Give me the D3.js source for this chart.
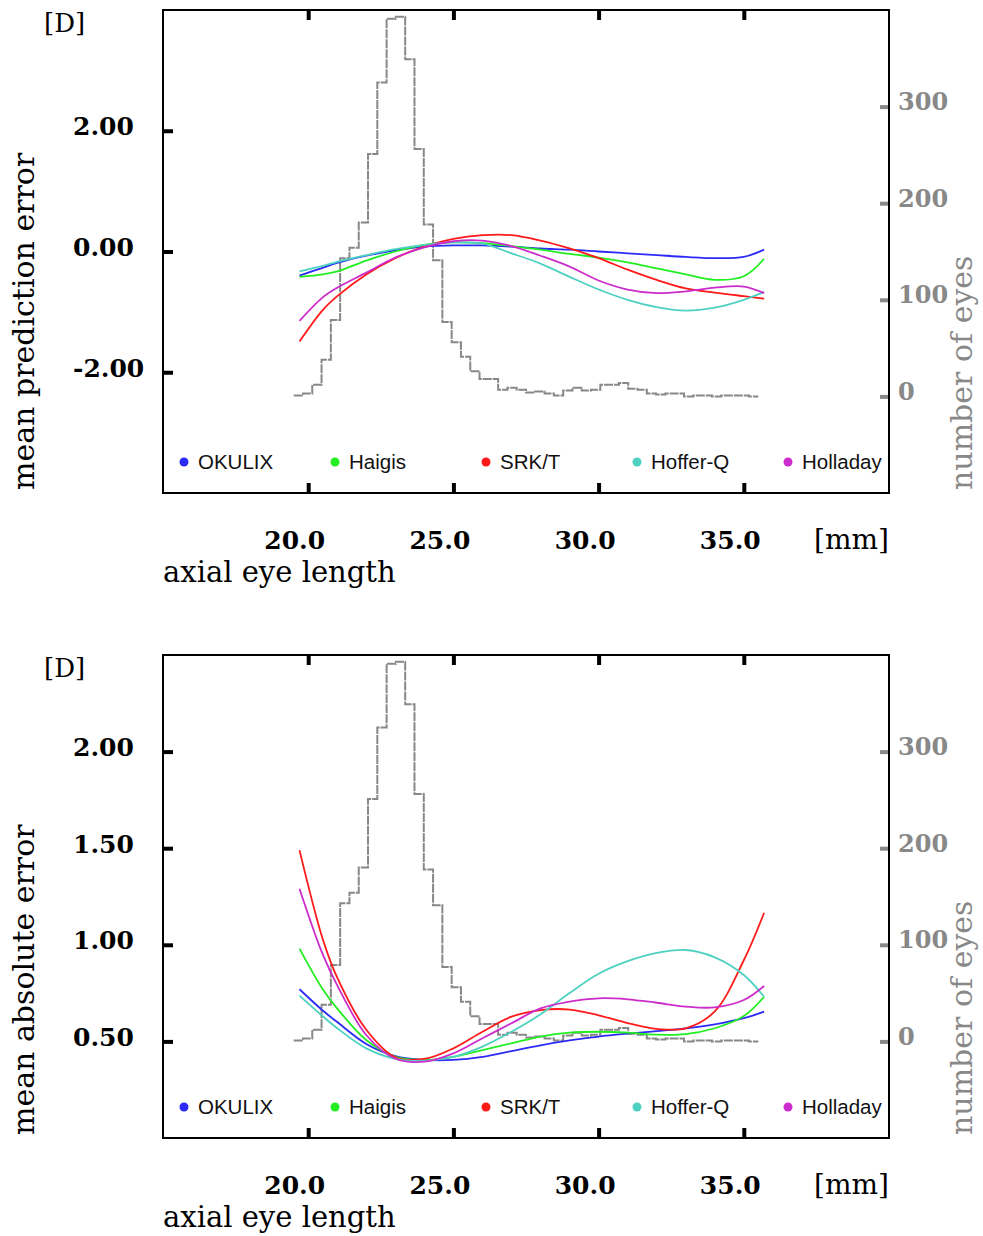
<!DOCTYPE html>
<html>
<head>
<meta charset="utf-8">
<script src="https://cdn.jsdelivr.net/npm/d3@7"></script>
<style>
  body { margin: 0; background: #fff; }
  svg text { font-family: "DejaVu Serif", serif; }
</style>
</head>
<body>
<div id="chart"></div>
<script>
// axial eye length [mm] where the fitted curves were read
const axialLength = [19.7, 20.5, 21, 22, 23, 24, 25, 26, 27, 28, 29, 30, 31, 32, 33, 34, 35, 35.7];

const methods = ["OKULIX", "Haigis", "SRK/T", "Hoffer-Q", "Holladay"];
const methodColors = ["#2b2bf5", "#22ee22", "#ff1a1a", "#4fd1c2", "#cc2ccc"];

// mean prediction error [D]
const mpeOkulix   = [-0.40, -0.27, -0.19, -0.07, 0.02, 0.08, 0.10, 0.10, 0.08, 0.05, 0.03, 0.00, -0.03, -0.06, -0.09, -0.11, -0.09, 0.03];
const mpeHaigis   = [-0.42, -0.38, -0.33, -0.15, 0.00, 0.11, 0.15, 0.14, 0.09, 0.03, -0.04, -0.10, -0.18, -0.28, -0.38, -0.47, -0.41, -0.12];
const mpeSrkt     = [-1.49, -0.97, -0.74, -0.38, -0.11, 0.08, 0.21, 0.27, 0.27, 0.18, 0.05, -0.11, -0.30, -0.47, -0.61, -0.68, -0.74, -0.78];
const mpeHofferQ  = [-0.33, -0.24, -0.17, -0.06, 0.04, 0.11, 0.15, 0.13, -0.03, -0.20, -0.42, -0.63, -0.80, -0.92, -0.98, -0.93, -0.80, -0.67];
const mpeHolladay = [-1.15, -0.76, -0.60, -0.35, -0.10, 0.07, 0.17, 0.18, 0.09, -0.07, -0.25, -0.48, -0.63, -0.69, -0.66, -0.60, -0.58, -0.69];

// mean absolute error [D]
const maeOkulix   = [0.77, 0.66, 0.60, 0.487, 0.424, 0.404, 0.404, 0.42, 0.45, 0.48, 0.505, 0.525, 0.54, 0.553, 0.567, 0.588, 0.62, 0.654];
const maeHaigis   = [0.98, 0.77, 0.67, 0.507, 0.42, 0.404, 0.42, 0.455, 0.49, 0.525, 0.545, 0.55, 0.545, 0.535, 0.538, 0.568, 0.631, 0.731];
const maeSrkt     = [1.49, 1.03, 0.83, 0.56, 0.418, 0.409, 0.464, 0.55, 0.628, 0.662, 0.665, 0.635, 0.595, 0.565, 0.568, 0.655, 0.92, 1.166];
const maeHofferQ  = [0.737, 0.63, 0.568, 0.464, 0.41, 0.40, 0.42, 0.473, 0.55, 0.64, 0.75, 0.85, 0.915, 0.958, 0.973, 0.935, 0.844, 0.731];
const maeHolladay = [1.29, 0.95, 0.79, 0.533, 0.41, 0.395, 0.438, 0.516, 0.594, 0.671, 0.706, 0.723, 0.718, 0.70, 0.68, 0.676, 0.714, 0.787];

// histogram: number of eyes per bin (bins of 0.32 mm from 19.5 mm)
const histStart = 19.5, histWidth = 0.32;
const eyeCounts = [1, 3, 12, 38, 79, 143, 154, 180, 251, 325, 391, 393, 349, 256, 178, 141, 77, 56, 41, 26,
                   18, 18, 7, 9, 7, 4, 5, 3, 1, 6, 9, 6, 7, 12, 12, 14, 8, 7, 3, 2,
                   3, 3, 0, 1, 1, 0, 1, 1, 1, 0];

const xTicks = [20, 25, 30, 35];
const mpeTicks = [-2, 0, 2];
const maeTicks = [0.5, 1, 1.5, 2];
const eyeTicks = [0, 100, 200, 300];

var w = 983, h = 1236;
var left = 163, right = 889, plotH = 483;
var gray = "#888888";

var svg = d3.select("#chart")
  .append("svg")
  .attr("width", w)
  .attr("height", h);

var x = d3.scaleLinear().domain([15, 40]).range([left, right]);

// plain hyphen instead of the unicode minus
var fmt2 = d => d3.format(".2f")(d).replace("\u2212", "-");

function drawPanel(top, yDomain, yTicks, yTitle, series) {
  var bottom = top + plotH;
  var y = d3.scaleLinear().domain(yDomain).range([bottom, top]);
  var yEyes = d3.scaleLinear().domain([-100, 400]).range([bottom, top]);
  var g = svg.append("g");

  // histogram (step line)
  var hist = eyeCounts.map((c, i) => [histStart + i * histWidth, c]);
  hist.push([histStart + eyeCounts.length * histWidth, eyeCounts[eyeCounts.length - 1]]);
  g.append("path")
   .datum(hist)
   .attr("fill", "none")
   .attr("stroke", gray)
   .attr("stroke-width", 2)
   .attr("stroke-dasharray", "9 1")
   .attr("d", d3.line().curve(d3.curveStepAfter)
     .x(d => x(d[0]))
     .y(d => yEyes(d[1])));

  // fitted curves
  var line = d3.line().curve(d3.curveCatmullRom.alpha(0.5))
    .x((d, i) => x(axialLength[i]))
    .y(d => y(d));
  g.selectAll("path.fit")
   .data(series)
   .enter()
   .append("path")
   .attr("class", "fit")
   .attr("fill", "none")
   .attr("stroke", (d, i) => methodColors[i])
   .attr("stroke-width", 1.8)
   .attr("d", d => line(d));

  // left axis
  var yAx = g.append("g")
   .attr("transform", `translate(${left},0)`)
   .call(d3.axisLeft(y).tickValues(yTicks).tickSize(-10).tickFormat(fmt2));
  yAx.select(".domain").remove();
  yAx.selectAll("line").attr("stroke", "#000").attr("stroke-width", 4);
  yAx.selectAll("text")
     .attr("x", 73 - left).attr("dy", null).attr("y", 4)
     .attr("text-anchor", "start")
     .attr("fill", "#000")
     .style("font-size", "25px").style("font-weight", "bold");

  // right axis (number of eyes)
  var rAx = g.append("g")
   .attr("transform", `translate(${right},0)`)
   .call(d3.axisRight(yEyes).tickValues(eyeTicks).tickSize(-9));
  rAx.select(".domain").remove();
  rAx.selectAll("line").attr("stroke", gray).attr("stroke-width", 4);
  rAx.selectAll("text")
     .attr("x", 9).attr("dy", null).attr("y", 3)
     .attr("fill", gray)
     .style("font-size", "24px").style("font-weight", "bold");

  // x ticks top and bottom
  var tAx = g.append("g")
   .attr("transform", `translate(0,${top})`)
   .call(d3.axisTop(x).tickValues(xTicks).tickSize(-10).tickFormat(""));
  tAx.select(".domain").remove();
  tAx.selectAll("line").attr("stroke", "#000").attr("stroke-width", 4);

  var bAx = g.append("g")
   .attr("transform", `translate(0,${bottom})`)
   .call(d3.axisBottom(x).tickValues(xTicks).tickSize(-10).tickFormat(d3.format(".1f")));
  bAx.select(".domain").remove();
  bAx.selectAll("line").attr("stroke", "#000").attr("stroke-width", 4);
  bAx.selectAll("text")
     .attr("x", -14).attr("dy", null).attr("y", 56)
     .attr("fill", "#000")
     .style("font-size", "25px").style("font-weight", "bold");

  // frame
  g.append("rect")
   .attr("x", left).attr("y", top)
   .attr("width", right - left).attr("height", plotH)
   .attr("fill", "none").attr("stroke", "#000").attr("stroke-width", 2);

  // legend
  var leg = g.append("g").selectAll("g")
   .data(methods)
   .enter()
   .append("g")
   .attr("transform", (d, i) => `translate(${184 + i * 151},${top + 452})`);
  leg.append("circle").attr("r", 4.5).attr("fill", (d, i) => methodColors[i]);
  leg.append("text")
     .attr("x", 14).attr("y", 7)
     .style("font-family", "'Liberation Sans', sans-serif")
     .style("font-size", "20.5px")
     .attr("fill", "#111")
     .text(d => d);

  // titles
  g.append("text").attr("x", 44).attr("y", top + 22)
   .style("font-size", "26px").text("[D]");
  g.append("text")
   .attr("transform", `translate(34,${bottom - 3}) rotate(-90)`)
   .style("font-size", "30px").text(yTitle);
  g.append("text")
   .attr("transform", `translate(972,${bottom - 3}) rotate(-90)`)
   .attr("fill", gray)
   .style("font-size", "30px").text("number of eyes");
  g.append("text").attr("x", right).attr("y", bottom + 56)
   .attr("text-anchor", "end")
   .style("font-size", "28px").text("[mm]");
  g.append("text").attr("x", left).attr("y", bottom + 89)
   .style("font-size", "29px").text("axial eye length");
}

drawPanel(10, [-4, 4], mpeTicks, "mean prediction error",
  [mpeOkulix, mpeHaigis, mpeSrkt, mpeHofferQ, mpeHolladay]);
drawPanel(655, [0, 2.5], maeTicks, "mean absolute error",
  [maeOkulix, maeHaigis, maeSrkt, maeHofferQ, maeHolladay]);
</script>
</body>
</html>
